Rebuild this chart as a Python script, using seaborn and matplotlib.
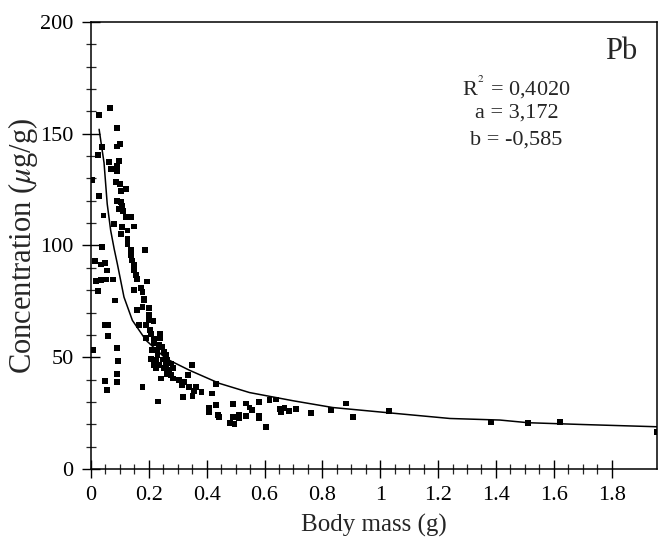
import numpy as np
import pandas as pd
import matplotlib
matplotlib.use("Agg")
import matplotlib.pyplot as plt
from matplotlib.ticker import FixedLocator, FormatStrFormatter
import seaborn as sns

# Body mass (g) and Pb concentration (ug/g)
body_mass = [
    0.066, 0.028, 0.089, 0.101, 0.091, 0.037, 0.024, 0.063, 0.097, 0.091,
    0.070, 0.089, 0.003, 0.086, 0.101, 0.120, 0.105, 0.029, 0.103, 0.090,
    0.108, 0.097, 0.111, 0.043, 0.120, 0.138, 0.080, 0.149, 0.108, 0.126,
    0.103, 0.126, 0.126, 0.039, 0.138, 0.186, 0.138, 0.143, 0.014, 0.047,
    0.034, 0.149, 0.149, 0.054, 0.155, 0.160, 0.016, 0.034, 0.051, 0.077,
    0.195, 0.172, 0.149, 0.178, 0.025, 0.184, 0.083, 0.178, 0.201, 0.160,
    0.201, 0.201, 0.216, 0.166, 0.190, 0.047, 0.059, 0.205, 0.207, 0.239,
    0.059, 0.190, 0.218, 0.239, 0.218, 0.236, 0.247, 0.089, 0.008, 0.228,
    0.212, 0.253, 0.230, 0.259, 0.207, 0.224, 0.247, 0.264, 0.094, 0.218,
    0.236, 0.259, 0.276, 0.224, 0.253, 0.270, 0.282, 0.264, 0.276, 0.089,
    0.242, 0.282, 0.305, 0.089, 0.047, 0.322, 0.334, 0.348, 0.316, 0.178,
    0.054, 0.340, 0.363, 0.357, 0.382, 0.418, 0.433, 0.319, 0.351, 0.231,
    0.432, 0.407, 0.409, 0.440, 0.441, 0.490, 0.490, 0.481, 0.496, 0.513,
    0.511, 0.536, 0.548, 0.557, 0.536, 0.580, 0.582, 0.580, 0.606, 0.617,
    0.640, 0.652, 0.658, 0.669, 0.684, 0.710, 0.762, 0.831, 0.883, 0.906,
    1.030, 1.382, 1.512, 1.622, 1.955, 0.184,
]
concentration = [
    161.6, 158.4, 152.7, 145.4, 144.3, 143.9, 140.6, 137.5, 137.8, 135.7,
    134.2, 133.5, 129.5, 128.3, 127.5, 125.3, 124.2, 122.3, 119.6, 120.1,
    117.9, 116.5, 115.6, 113.4, 112.6, 112.6, 109.7, 108.5, 108.2, 106.7,
    105.2, 103.0, 100.8, 99.2, 97.8, 97.8, 95.5, 93.3, 93.0, 92.3,
    91.5, 91.1, 88.8, 88.8, 86.6, 85.1, 84.1, 84.4, 84.8, 84.8,
    83.9, 81.1, 79.9, 79.2, 79.6, 76.2, 75.4, 72.5, 72.2, 71.0,
    68.8, 66.5, 66.2, 64.3, 64.3, 64.6, 64.6, 62.1, 60.6, 60.6,
    59.4, 58.8, 58.3, 58.8, 56.4, 55.4, 54.6, 54.2, 53.1, 53.1,
    53.4, 52.4, 50.9, 50.9, 49.4, 48.7, 49.0, 48.7, 48.3, 46.4,
    46.4, 46.4, 47.2, 45.0, 45.0, 44.2, 45.0, 42.7, 42.0, 42.4,
    40.5, 40.5, 39.7, 39.0, 39.3, 39.0, 42.0, 46.4, 37.5, 36.5,
    35.3, 36.5, 36.7, 35.0, 34.5, 33.8, 37.9, 32.3, 32.6, 30.2,
    28.6, 27.1, 25.6, 24.1, 23.3, 29.0, 23.1, 20.4, 20.1, 24.1,
    22.6, 29.3, 27.5, 26.3, 23.7, 30.0, 23.7, 22.6, 18.6, 30.8,
    31.1, 26.7, 25.6, 27.1, 26.0, 26.7, 24.9, 26.3, 29.3, 23.1,
    26.0, 20.8, 20.7, 21.1, 16.7, 75.4,
]

# fitted power curve
fit_mass = [0.028, 0.037, 0.045, 0.056, 0.068, 0.080, 0.091, 0.114, 0.143,
            0.190, 0.259, 0.340, 0.444, 0.548, 0.700, 0.836, 1.033, 1.241,
            1.414, 1.512, 1.700, 1.957]
fit_conc = [152.0, 144.0, 137.0, 118.6, 106.7, 98.5, 91.8, 76.9, 66.5,
            57.6, 49.4, 44.2, 38.3, 34.2, 30.5, 27.5, 25.1, 22.6,
            21.9, 20.7, 19.9, 18.9]

stats_lines = ["R$^{^2}$ = 0,4020", "a = 3,172", "b = -0,585"]
element = "Pb"

x_major = [0, 0.2, 0.4, 0.6, 0.8, 1, 1.2, 1.4, 1.6, 1.8]
x_minor = [i * 0.05 for i in range(37)]
y_major = [0, 50, 100, 150, 200]
y_minor = list(range(0, 201, 10))

pts = pd.DataFrame({"mass": body_mass, "conc": concentration})
fit = pd.DataFrame({"mass": fit_mass, "conc": fit_conc})

sns.set_style("ticks")
plt.rcParams["font.family"] = ["Liberation Serif", "DejaVu Serif"]
plt.rcParams["mathtext.fontset"] = "stix"

fig = plt.figure(figsize=(6.61, 5.47), dpi=100)
ax = fig.add_axes([0.1377, 0.1426, 0.8563, 0.8172])

sns.lineplot(data=fit, x="mass", y="conc", sort=False, estimator=None,
             color="black", linewidth=1.1, ax=ax)
sns.scatterplot(data=pts, x="mass", y="conc", marker="s", s=18,
                color="black", edgecolor="none", ax=ax)

ax.set_xlim(0, 1.957)
ax.set_ylim(0, 200)
ax.xaxis.set_major_locator(FixedLocator(x_major))
ax.xaxis.set_minor_locator(FixedLocator(x_minor))
ax.xaxis.set_major_formatter(FormatStrFormatter("%g"))
ax.yaxis.set_major_locator(FixedLocator(y_major))
ax.yaxis.set_minor_locator(FixedLocator(y_minor))

for side in ["left", "bottom", "right", "top"]:
    ax.spines[side].set_visible(True)
    ax.spines[side].set_linewidth(1.1)
    ax.spines[side].set_color("black")

ax.tick_params(which="major", direction="inout", length=13, width=1.0,
               labelsize=16, colors="black")
ax.tick_params(which="minor", direction="inout", length=7, width=0.9)
ax.tick_params(axis="y", which="major", pad=6)
ax.tick_params(axis="x", which="major", pad=6)

ax.set_xlabel("Body mass (g)", fontsize=18, labelpad=6)
ax.set_ylabel(r"Concentration ($\mu$g/g)", fontsize=22)
ax.yaxis.set_label_coords(-0.09, 0.5)

ax.text(0.936, 0.935, element, transform=ax.transAxes, fontsize=22,
        ha="center", va="center")
for i, line in enumerate(stats_lines):
    ax.text(0.752, 0.855 - 0.059 * i, line, transform=ax.transAxes,
            fontsize=16, ha="center", va="center")

fig.savefig("out.png", dpi=100)
